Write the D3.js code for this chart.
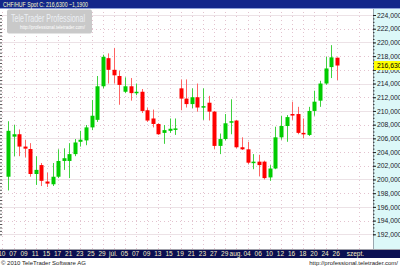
<!DOCTYPE html>
<html>
<head>
<meta charset="utf-8">
<script src="https://cdn.jsdelivr.net/npm/d3@7"></script>
<style>
  body { margin: 0; background: #fff; }
  svg { display: block; font-family: "Liberation Sans", Arial, sans-serif; }
</style>
</head>
<body>
<div id="container"></div>
<script>
// CHF/HUF daily candles, jun - aug 2010
let dates = ["06-04","06-07","06-08","06-09","06-10","06-11","06-14","06-15","06-16","06-17",
  "06-18","06-21","06-22","06-23","06-24","06-25","06-28","06-29","06-30","07-01",
  "07-02","07-05","07-06","07-07","07-08","07-09","07-12","07-13","07-14","07-15",
  "07-16","07-19","07-20","07-21","07-22","07-23","07-26","07-27","07-28","07-29",
  "07-30","08-02","08-03","08-04","08-05","08-06","08-09","08-10","08-11","08-12",
  "08-13","08-16","08-17","08-18","08-19","08-20","08-23","08-24","08-25","08-26"];
let opens = [200.4,206.25,206.6,204.8,204.45,200.8,202.1,199.7,199.3,200.4,
  202.7,202.7,203.7,205.5,205.7,207.6,208.7,213.6,217.7,216.0,
  215.1,212.8,213.6,212.6,212.8,210.1,208.9,208.1,206.8,207.1,
  207.3,213.3,211.8,211.0,212.0,210.5,211.2,209.9,204.9,205.9,
  208.3,208.6,204.7,204.4,202.45,202.6,202.6,200.3,201.6,206.15,
  207.8,209.55,209.55,206.8,206.5,210.0,211.5,214.0,216.4,217.77];
let highs = [208.5,207.95,207.3,205.8,205.3,203.4,202.4,201.0,202.4,204.4,
  204.55,205.3,205.9,207.1,207.95,211.6,215.1,218.2,218.4,219.2,
  215.9,214.9,214.8,214.0,213.2,210.5,210.2,208.2,207.95,208.9,
  208.9,214.6,214.6,213.3,214.0,213.3,212.2,210.0,206.7,209.55,
  211.7,208.7,206.15,205.5,203.7,203.6,202.75,202.1,207.7,209.3,
  209.4,211.35,210.6,208.9,210.6,212.95,214.4,217.9,219.6,217.8];
let lows = [198.4,203.4,203.4,203.2,200.4,199.2,199.05,198.9,199.05,200.2,
  201.4,200.2,203.4,204.8,205.0,207.2,208.4,213.3,214.0,214.0,
  210.9,212.6,211.5,212.3,209.7,208.4,207.6,206.5,205.2,206.8,
  206.5,210.1,210.5,210.4,209.9,208.7,208.6,204.4,203.7,205.7,
  206.6,204.55,204.3,202.25,201.5,200.5,200.0,199.8,201.5,205.8,
  205.5,208.7,206.6,206.0,206.35,209.3,210.6,213.8,214.8,214.5];
let closes = [207.1,206.6,204.8,204.5,200.8,201.4,199.8,199.4,200.4,202.7,
  203.1,203.7,205.4,205.8,207.6,209.3,213.6,217.9,216.0,215.2,
  213.8,213.6,212.6,212.8,210.0,208.6,208.1,206.6,207.2,207.4,
  207.45,211.8,211.0,212.0,210.5,210.7,209.9,204.9,205.9,208.2,
  208.5,204.7,204.4,202.45,202.6,202.1,200.2,201.6,206.15,207.8,
  209.1,209.35,206.8,206.6,210.0,211.35,214.0,216.2,217.82,216.63];

// empty day slots before and after the data
let leadDays = ["06-03"];
let tailDays = ["08-27","08-30","08-31","09-01","09-02","09-03"];

let tickDates = ["06-03","06-07","06-09","06-11","06-15","06-17","06-21","06-23","06-25","06-29",
  "07-01","07-05","07-07","07-09","07-13","07-15","07-19","07-21","07-23","07-27",
  "07-29","08-02","08-04","08-06","08-10","08-12","08-16","08-18","08-20","08-24",
  "08-26","09-01"];
let tickLabels = ["10","07","09","11","15","17","21","23","25","29",
  "júl.","05","07","09","13","15","19","21","23","27",
  "29","aug.","04","06","10","12","16","18","20","24",
  "26","szept."];

let yTicks = [192,194,196,198,200,202,204,206,208,210,212,214,216,218,220,222,224];
let ySolid = [192,196,200,206,210,214,220,224];

let lastPrice = 216.63;
let change = -1.19;

let w = 400;
let h = 266;
let plotRight = 373;
let plotTop = 8;
let plotBottom = 249;

let viz = d3.select("#container")
  .append("svg")
    .attr("width", w)
    .attr("height", h)
    .style("background-color", "white")
;

let fmt = function(v){ return d3.format(".4f")(v).replace(".", ","); };

let slots = leadDays.concat(dates, tailDays);
let xScale = d3.scaleBand().domain(slots).range([-0.4, plotRight]).padding(0);
let yScale = d3.scaleLinear().domain([192, 224]).range([234.3, 15]);
function cx(d){ return xScale(d) + xScale.bandwidth() / 2; }

// grid
let grid = viz.append("g").attr("class", "grid");
grid.selectAll(".hdot").data(yTicks).enter().append("line")
  .attr("x1", 0).attr("x2", plotRight)
  .attr("y1", function(d){ return Math.round(yScale(d)) + 0.5; })
  .attr("y2", function(d){ return Math.round(yScale(d)) + 0.5; })
  .attr("stroke", "#e3c3cf")
  .attr("stroke-dasharray", "1,3")
;
grid.selectAll(".hsolid").data(ySolid).enter().append("line")
  .attr("x1", 0).attr("x2", plotRight)
  .attr("y1", function(d){ return Math.round(yScale(d)) + 0.5; })
  .attr("y2", function(d){ return Math.round(yScale(d)) + 0.5; })
  .attr("stroke", "#ece2e6")
;
grid.selectAll(".vdot").data(tickDates).enter().append("line")
  .attr("x1", function(d){ return Math.round(cx(d)) + 0.5; })
  .attr("x2", function(d){ return Math.round(cx(d)) + 0.5; })
  .attr("y1", plotTop).attr("y2", plotBottom)
  .attr("stroke", "#e3c3cf")
  .attr("stroke-dasharray", "1,3")
;

// watermark
let wm = viz.append("g");
wm.append("rect")
  .attr("x", 7).attr("y", 9.5).attr("width", 85).attr("height", 24).attr("rx", 2)
  .attr("fill", "#c9c9c9")
;
wm.append("text")
  .attr("x", 11).attr("y", 21.5)
  .attr("font-size", "10px")
  .attr("fill", "#eceff4")
  .attr("textLength", 74).attr("lengthAdjust", "spacingAndGlyphs")
  .text("TeleTrader Professional")
;
wm.append("text")
  .attr("x", 20).attr("y", 28.5)
  .attr("font-size", "5px")
  .attr("fill", "#ffffff")
  .attr("textLength", 65).attr("lengthAdjust", "spacingAndGlyphs")
  .text("http://professional.teletrader.com/")
;

// candles
let candles = dates.map(function(d, i){
  return {date: d, o: opens[i], h: highs[i], l: lows[i], c: closes[i]};
});

let candleGroup = viz.append("g").attr("class", "candles");
let cg = candleGroup.selectAll(".candle").data(candles).enter()
  .append("g").attr("class", "candle");

cg.append("line")
  .attr("x1", function(d){ return Math.round(cx(d.date)) + 0.5; })
  .attr("x2", function(d){ return Math.round(cx(d.date)) + 0.5; })
  .attr("y1", function(d){ return yScale(d.h); })
  .attr("y2", function(d){ return yScale(d.l); })
  .attr("stroke", function(d){ return d.c >= d.o ? "#3fd23f" : "#ff6464"; })
  .attr("stroke-width", 1)
;
cg.append("rect")
  .attr("x", function(d){ return Math.round(cx(d.date)) - 1.5; })
  .attr("width", 4)
  .attr("y", function(d){ return yScale(Math.max(d.o, d.c)); })
  .attr("height", function(d){ return Math.max(1.5, Math.abs(yScale(d.o) - yScale(d.c))); })
  .attr("fill", function(d){ return d.c >= d.o ? "#00cc00" : "#ff0000"; })
;

// left edge minor ticks
let minor = d3.range(192, 224.01, 0.5);
viz.append("g")
  .attr("transform", "translate(0,0)")
  .call(d3.axisRight(yScale).tickValues(minor).tickSize(2).tickFormat(""))
  .call(function(g){ g.select(".domain").remove(); })
  .selectAll("line").attr("stroke", "#555")
;

// right axis panel
viz.append("rect")
  .attr("x", plotRight).attr("y", plotTop)
  .attr("width", w - plotRight).attr("height", plotBottom - plotTop)
  .attr("fill", "#dcf8f8")
;
viz.append("line")
  .attr("x1", plotRight + 0.5).attr("x2", plotRight + 0.5)
  .attr("y1", plotTop).attr("y2", plotBottom)
  .attr("stroke", "#9aa8b0")
;
viz.append("g")
  .attr("transform", "translate(" + plotRight + ",0)")
  .call(d3.axisRight(yScale).tickValues(minor).tickSize(1.5).tickFormat(""))
  .call(function(g){ g.select(".domain").remove(); })
  .selectAll("line").attr("stroke", "#333")
;
let yAxisGroup = viz.append("g")
  .attr("transform", "translate(" + plotRight + ",0)")
  .call(d3.axisRight(yScale).tickValues(yTicks).tickSize(3).tickPadding(1).tickFormat(fmt))
;
yAxisGroup.select(".domain").remove();
yAxisGroup.selectAll("line").attr("stroke", "#222");
yAxisGroup.selectAll("text")
  .attr("font-size", "6.8px")
  .attr("font-family", "Liberation Sans, Arial, sans-serif")
  .attr("fill", "#1a1a2a")
;

// last price marker
let py = yScale(lastPrice);
viz.append("rect")
  .attr("x", plotRight + 1).attr("y", py - 4.5)
  .attr("width", w - plotRight - 1).attr("height", 9)
  .attr("fill", "#ffff00")
;
viz.append("text")
  .attr("x", plotRight + 4).attr("y", py)
  .attr("dy", "0.34em")
  .attr("font-size", "6.8px")
  .attr("fill", "#000")
  .text(fmt(lastPrice))
;

// top bar
viz.append("rect")
  .attr("x", 0).attr("y", 0).attr("width", w).attr("height", plotTop)
  .attr("fill", "#13268a")
;
viz.append("line")
  .attr("x1", 0).attr("x2", w).attr("y1", plotTop + 0.5).attr("y2", plotTop + 0.5)
  .attr("stroke", "#8ea0d8")
;
viz.append("text")
  .attr("x", 3).attr("y", 6.6)
  .attr("font-size", "7.2px")
  .attr("fill", "#ffffc8")
  .attr("textLength", 85).attr("lengthAdjust", "spacingAndGlyphs")
  .text("CHF/HUF Spot C: " + fmt(lastPrice) + " " + fmt(change))
;

// bottom bar + date axis
viz.append("line")
  .attr("x1", 0).attr("x2", w).attr("y1", plotBottom + 0.5).attr("y2", plotBottom + 0.5)
  .attr("stroke", "#a0a0a8")
;
viz.append("rect")
  .attr("x", 0).attr("y", plotBottom + 1).attr("width", w).attr("height", 8)
  .attr("fill", "#0b0f52")
;
let labelOf = {};
tickDates.forEach(function(d, i){ labelOf[d] = tickLabels[i]; });
let xAxisGroup = viz.append("g")
  .attr("transform", "translate(0," + (plotBottom + 1) + ")")
  .call(d3.axisBottom(xScale).tickValues(tickDates).tickSize(0).tickPadding(1.5)
    .tickFormat(function(d){ return labelOf[d]; }))
;
xAxisGroup.select(".domain").remove();
xAxisGroup.selectAll("text")
  .attr("font-size", "6.5px")
  .attr("font-family", "Liberation Sans, Arial, sans-serif")
  .attr("fill", "#f4ecc4")
  .attr("dx", "-0.6")
  .each(function(){
    // keep the last month label inside the plot
    let el = d3.select(this);
    let t = d3.select(this.parentNode).attr("transform");
    let tx = +t.match(/translate\(([-\d.]+)/)[1];
    let half = this.getComputedTextLength() / 2;
    if (tx + half > plotRight - 9) {
      el.attr("dx", (plotRight - 9 - half - tx));
    }
  })
;

// footer
viz.append("text")
  .attr("x", 1).attr("y", 264.5)
  .attr("font-size", "6px")
  .attr("fill", "#222")
  .text("© 2010 TeleTrader Software AG")
;
viz.append("text")
  .attr("x", 398).attr("y", 264.5)
  .attr("text-anchor", "end")
  .attr("font-size", "6px")
  .attr("fill", "#222")
  .text("http://professional.teletrader.com/")
;
</script>
</body>
</html>
